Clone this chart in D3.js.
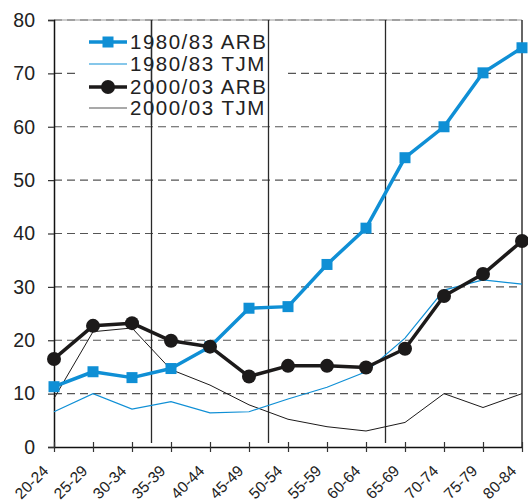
<!DOCTYPE html>
<html>
<head>
<meta charset="utf-8">
<script src="https://cdn.jsdelivr.net/npm/d3@7"></script>
<style>
  html, body { margin: 0; padding: 0; background: #fff; }
  svg { display: block; font-family: "Liberation Sans", Arial, sans-serif; }
</style>
</head>
<body>
<svg id="chart" width="528" height="504"></svg>
<script>
const categories = ["20-24","25-29","30-34","35-39","40-44","45-49","50-54","55-59","60-64","65-69","70-74","75-79","80-84"];
const arb1980 = [11.3, 14.1, 13.0, 14.7, 18.8, 26.0, 26.3, 34.2, 41.0, 54.2, 60.0, 70.1, 74.8];
const tjm1980 = [6.6, 10.0, 7.1, 8.5, 6.4, 6.6, 9.0, 11.2, 14.1, 20.4, 29.4, 31.3, 30.5];
const arb2000 = [16.5, 22.7, 23.2, 19.9, 18.8, 13.2, 15.2, 15.2, 14.9, 18.4, 28.3, 32.4, 38.6];
const tjm2000 = [9.1, 21.6, 22.3, 14.5, 11.6, 7.9, 5.2, 3.8, 3.0, 4.6, 10.0, 7.4, 10.0];
const yTicks = [0, 10, 20, 30, 40, 50, 60, 70, 80];
const dividersAfter = ["30-34", "45-49", "60-64"];
const seriesNames = ["1980/83 ARB", "1980/83 TJM", "2000/03 ARB", "2000/03 TJM"];

(function () {
const BLUE = "#0f8fd5";
const BLACK = "#1c1a1a";

const svg = d3.select("#chart");
const mLeft = 54, mRight = 522, mTop = 20, mBottom = 447;

const x = d3.scalePoint().domain(categories).range([mLeft, mRight]);
const y = d3.scaleLinear().domain([0, 80]).range([mBottom, mTop]);

// gridlines
svg.append("g").selectAll("line").data(yTicks.filter(d => d > 0)).join("line")
  .attr("x1", mLeft).attr("x2", mRight)
  .attr("y1", d => y(d)).attr("y2", d => y(d))
  .attr("stroke", "#555").attr("stroke-width", 1.2)
  .attr("stroke-dasharray", "8,5");

// top border light
svg.append("line").attr("x1", mLeft).attr("x2", mRight).attr("y1", mTop).attr("y2", mTop)
  .attr("stroke", "#999").attr("stroke-width", 1);

// legend background (covers gridlines)
svg.append("rect").attr("x", 76).attr("y", 28).attr("width", 210).attr("height", 90).attr("fill", "#fff");

const divX = d => { const i = categories.indexOf(d); return (x(categories[i]) + x(categories[i + 1])) / 2; };

// dividers
svg.append("g").selectAll("line").data(dividersAfter).join("line")
  .attr("x1", divX).attr("x2", divX)
  .attr("y1", mTop).attr("y2", mBottom - 4)
  .attr("stroke", "#2a2a2a").attr("stroke-width", 1.3);

// right border
svg.append("line").attr("x1", mRight).attr("x2", mRight).attr("y1", mTop).attr("y2", mBottom)
  .attr("stroke", "#333").attr("stroke-width", 1.5);

// y axis
const yAxis = d3.axisLeft(y).tickValues(yTicks).tickSize(6).tickPadding(13).tickFormat(d3.format("d"));
const gy = svg.append("g").attr("transform", `translate(${mLeft},0)`).call(yAxis);
gy.select(".domain").attr("stroke", "#111").attr("stroke-width", 1.5);
gy.selectAll(".tick line").attr("stroke", "#333").attr("stroke-width", 1.2);
gy.selectAll(".tick text").attr("font-size", 19.5).attr("fill", "#222")
  .attr("font-family", "Liberation Sans, Arial, sans-serif");

// x axis
const xAxis = d3.axisBottom(x).tickSize(0).tickPadding(0);
const gx = svg.append("g").attr("transform", `translate(0,${mBottom})`).call(xAxis);
gx.select(".domain").attr("stroke", "#111").attr("stroke-width", 1.5);
gx.selectAll(".tick line").remove();
gx.selectAll(".tick").append("line").attr("y1", -5).attr("y2", 5).attr("stroke", "#333").attr("stroke-width", 1.2);
gx.selectAll(".tick text")
  .attr("font-size", 15.5).attr("fill", "#222")
  .attr("font-family", "Liberation Sans, Arial, sans-serif")
  .attr("text-anchor", "end")
  .attr("transform", "translate(-9,21) rotate(-45)")
  .attr("dy", "0.35em").attr("y", 0).attr("x", 0);

const line = d3.line().x((d, i) => x(categories[i])).y(d => y(d));

// thin lines
svg.append("path").datum(tjm2000).attr("d", line).attr("fill", "none").attr("stroke", BLACK).attr("stroke-width", 1);
svg.append("path").datum(tjm1980).attr("d", line).attr("fill", "none").attr("stroke", BLUE).attr("stroke-width", 1.2);

// blue thick
svg.append("path").datum(arb1980).attr("d", line).attr("fill", "none").attr("stroke", BLUE).attr("stroke-width", 3.5).attr("stroke-linejoin", "round");
svg.append("g").selectAll("rect").data(arb1980).join("rect")
  .attr("x", (d, i) => x(categories[i]) - 5.5).attr("y", d => y(d) - 5.5)
  .attr("width", 11).attr("height", 11).attr("fill", BLUE);

// black thick
svg.append("path").datum(arb2000).attr("d", line).attr("fill", "none").attr("stroke", BLACK).attr("stroke-width", 3.5).attr("stroke-linejoin", "round");
svg.append("g").selectAll("circle").data(arb2000).join("circle")
  .attr("cx", (d, i) => x(categories[i])).attr("cy", d => y(d)).attr("r", 7).attr("fill", BLACK);

// legend
const legendRows = [
  { name: seriesNames[0], color: BLUE, w: 3.5, marker: "square" },
  { name: seriesNames[1], color: BLUE, w: 1.2, marker: null },
  { name: seriesNames[2], color: BLACK, w: 3.5, marker: "circle" },
  { name: seriesNames[3], color: "#555", w: 1.2, marker: null }
];
const rowY = [42, 64, 87, 108];
const lg = svg.append("g");
legendRows.forEach((r, i) => {
  const g = lg.append("g").attr("transform", `translate(0,${rowY[i]})`);
  g.append("line").attr("x1", 89).attr("x2", 127).attr("y1", 0).attr("y2", 0).attr("stroke", r.color).attr("stroke-width", r.w);
  if (r.marker === "square") g.append("rect").attr("x", 108 - 5.5).attr("y", -5.5).attr("width", 11).attr("height", 11).attr("fill", r.color);
  if (r.marker === "circle") g.append("circle").attr("cx", 108).attr("cy", 0).attr("r", 7).attr("fill", r.color);
  g.append("text").attr("x", 130).attr("y", 0).attr("dy", "0.35em")
    .attr("font-size", 20.5).attr("letter-spacing", 1.5).attr("fill", "#222").text(r.name);
});

// divider over legend area (drawn on top)
svg.append("line")
  .attr("x1", divX(dividersAfter[0])).attr("x2", divX(dividersAfter[0]))
  .attr("y1", mTop).attr("y2", 125).attr("stroke", "#2a2a2a").attr("stroke-width", 1.3);
})();
</script>
</body>
</html>
